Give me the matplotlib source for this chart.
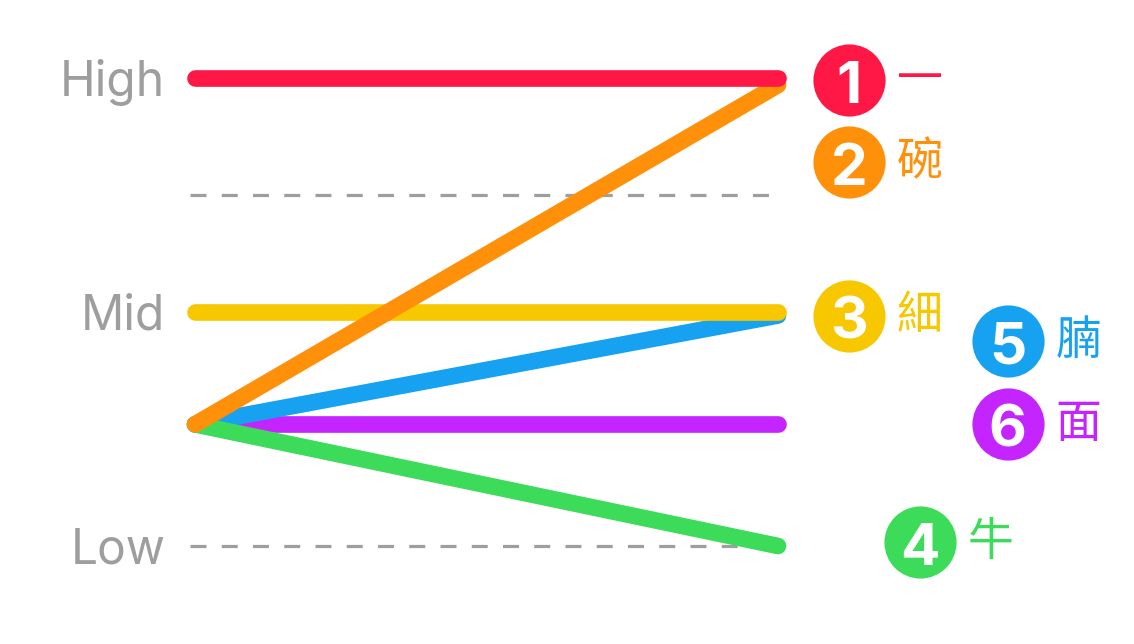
import matplotlib
matplotlib.use("Agg")
import matplotlib.pyplot as plt

# ranking data: order, label, start level, end level
ranks = [1, 2, 3, 4, 5, 6]
names = ["一", "碗", "細", "牛", "腩", "面"]
start_vals = [2.0, 0.52, 1.0, 0.52, 0.52, 0.52]
end_vals = [2.0, 1.97, 1.0, 0.0, 0.985, 0.52]
colors = ["#FF1846", "#FF900A", "#F7C800", "#3DDB5A", "#17A2F1", "#C425FF"]

level_vals = [0, 1, 2]
level_labels = ["Low", "Mid", "High"]
grid_vals = [0, 0.5, 1, 1.5, 2]

# label placement (layout only), in data units
label_x = [1.122, 1.122, 1.122, 1.244, 1.394, 1.394]
label_y = [1.991, 1.641, 0.983, 0.017, 0.876, 0.521]

plt.rcParams["lines.scale_dashes"] = False
W, H = 1134, 644
fig = plt.figure(figsize=(W / 100, H / 100), dpi=100)
ax = fig.add_axes([195 / W, (H - 546) / H, 583 / W, 468 / H])
ax.set_xlim(0, 1)
ax.set_ylim(0, 2)
ax.axis("off")

for g in grid_vals:
    ax.plot([-0.0086, 1.0086], [g, g], color="#9E9E9E", lw=2.3,
            dashes=(11.5, 11.0), dash_capstyle="butt", zorder=1, clip_on=False)

for i in reversed(range(len(ranks))):
    ax.plot([0, 1], [start_vals[i], end_vals[i]], color=colors[i], lw=12,
            solid_capstyle="round", zorder=2 + (len(ranks) - i), clip_on=False)

for v, t in zip(level_vals, level_labels):
    ax.text(-0.051, v - 0.075, t, ha="right", va="baseline", fontsize=34.5,
            color="#9E9E9E", family=["Inter", "DejaVu Sans"])

for i in range(len(ranks)):
    ax.scatter([label_x[i]], [label_y[i]], s=2700, color=colors[i],
               clip_on=False, zorder=10, linewidths=0)
    ax.text(label_x[i], label_y[i] - 0.097, str(ranks[i]), ha="center", va="baseline",
            fontsize=42, fontweight="bold", color="white",
            family=["Inter", "DejaVu Sans"], zorder=11)
    ax.text(label_x[i] + 0.082, label_y[i], names[i], ha="left", va="center",
            fontsize=33, color=colors[i],
            family=["Noto Sans CJK TC", "DejaVu Sans"], zorder=11)

fig.savefig("out.png", dpi=100)
